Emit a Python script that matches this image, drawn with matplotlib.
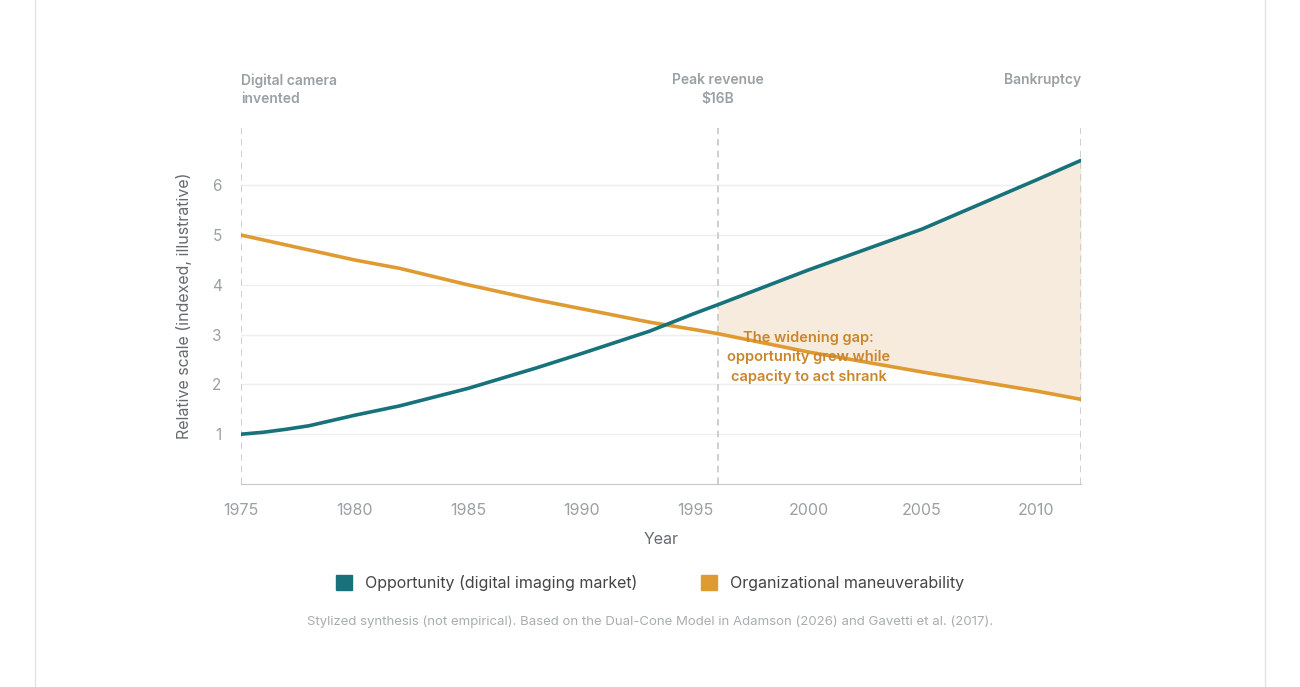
import matplotlib
matplotlib.use("Agg")
import matplotlib.pyplot as plt
from matplotlib.lines import Line2D
from matplotlib.patches import Patch
import numpy as np

plt.rcParams['font.family'] = ['Inter', 'DejaVu Sans']

years = [1975, 1976, 1977, 1978, 1980, 1982, 1985, 1988, 1990, 1993, 1995, 1996, 2000, 2005, 2010, 2012]
opportunity = [1.0, 1.04, 1.1, 1.17, 1.38, 1.57, 1.92, 2.33, 2.62, 3.07, 3.43, 3.6, 4.3, 5.12, 6.1, 6.5]
maneuver = [5.0, 4.9, 4.8, 4.7, 4.5, 4.33, 4.0, 3.7, 3.52, 3.25, 3.1, 3.02, 2.65, 2.25, 1.87, 1.7]
events = [1975, 1996, 2012]
event_labels = ["Digital camera\ninvented", "Peak revenue\n$16B", "Bankruptcy"]
yticks = [1, 2, 3, 4, 5, 6]
xticks = [1975, 1980, 1985, 1990, 1995, 2000, 2005, 2010]

teal = "#17727c"
orange = "#e09a32"
gray = "#9aa0a4"

fig = plt.figure(figsize=(13, 6.87), dpi=100)
fig.add_artist(Line2D([35/1300]*2, [0, 1], color="#e3e3e3", lw=1))
fig.add_artist(Line2D([1265/1300]*2, [0, 1], color="#e3e3e3", lw=1))
ax = fig.add_axes([241/1300, 1-484/687, 840/1300, 356/687])

yr = np.array(years)
opp = np.array(opportunity)
man = np.array(maneuver)
mask = yr >= 1996
ax.fill_between(yr[mask], man[mask], opp[mask], color="#f7ebdd", lw=0, zorder=1)
ax.plot(yr, man, color=orange, lw=2.6, zorder=3, solid_capstyle="round")
ax.plot(yr, opp, color=teal, lw=2.6, zorder=4, solid_capstyle="round")

for e in events:
    ax.axvline(e, color="#c4c8cb", lw=1.2, ls=(0, (4, 3)), zorder=2)
ax.text(1975, 8.25, event_labels[0], ha="left", va="top", fontsize=10, color=gray, fontweight="semibold", linespacing=1.4)
ax.text(1996, 8.25, event_labels[1], ha="center", va="top", fontsize=10, color=gray, fontweight="semibold", linespacing=1.4)
ax.text(2012, 8.25, event_labels[2], ha="right", va="top", fontsize=10, color=gray, fontweight="semibold", linespacing=1.4)

ax.text(2000, 2.55, "The widening gap:\nopportunity grew while\ncapacity to act shrank", ha="center", va="center",
        fontsize=10.5, color="#c9862a", fontweight="semibold", linespacing=1.45, zorder=5)

ax.set_xlim(1975, 2012)
ax.set_ylim(0, 7.15)
ax.set_yticks(yticks)
ax.set_xticks(xticks)
ax.grid(axis="y", color="#eeeeee", lw=1)
ax.set_axisbelow(True)
for s in ["top", "right", "left"]:
    ax.spines[s].set_visible(False)
ax.spines["bottom"].set_color("#c4c8cb")
ax.tick_params(axis="y", length=0, labelcolor=gray, labelsize=11, pad=14)
ax.tick_params(axis="x", length=0, labelcolor=gray, labelsize=11.5, pad=14)
ax.set_xlabel("Year", fontsize=11.5, color="#666b70", labelpad=10)
ax.set_ylabel("Relative scale (indexed, illustrative)", fontsize=11.5, color="#666b70", labelpad=14)

handles = [Patch(color=teal), Patch(color=orange)]
fig.legend(handles, ["Opportunity (digital imaging market)", "Organizational maneuverability"],
           loc="center", bbox_to_anchor=(0.5, 1-583/687), ncol=2, frameon=False, fontsize=11.5,
           handlelength=1.0, handleheight=1.0, columnspacing=4, labelcolor="#444444")
fig.text(0.5, 1-622/687, "Stylized synthesis (not empirical). Based on the Dual-Cone Model in Adamson (2026) and Gavetti et al. (2017).",
         ha="center", va="center", fontsize=9.5, color="#a8adb1")
fig.savefig("out.png", dpi=100)
